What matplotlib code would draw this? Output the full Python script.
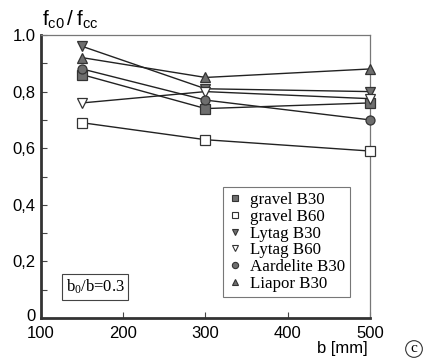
import matplotlib
matplotlib.use("Agg")
import matplotlib.pyplot as plt
from matplotlib.lines import Line2D
import matplotlib.transforms as mtransforms

plt.rcParams['mathtext.fontset'] = 'custom'
plt.rcParams['mathtext.rm'] = 'Liberation Serif'
plt.rcParams['mathtext.sf'] = 'Liberation Sans'
plt.rcParams['mathtext.it'] = 'Liberation Serif:italic'

b = [150, 300, 500]
gravel_b30 = [0.86, 0.74, 0.76]
gravel_b60 = [0.69, 0.63, 0.59]
lytag_b30 = [0.96, 0.81, 0.80]
lytag_b60 = [0.76, 0.80, 0.775]
aardelite_b30 = [0.88, 0.77, 0.70]
liapor_b30 = [0.92, 0.85, 0.88]

series = [
    ("gravel B30", gravel_b30, 's', '#6e6e6e'),
    ("gravel B60", gravel_b60, 's', 'white'),
    ("Lytag B30", lytag_b30, 'v', '#6e6e6e'),
    ("Lytag B60", lytag_b60, 'v', 'white'),
    ("Aardelite B30", aardelite_b30, 'o', '#6e6e6e'),
    ("Liapor B30", liapor_b30, '^', '#6e6e6e'),
]

yticks = [0, 0.2, 0.4, 0.6, 0.8, 1.0]
ytick_labels = ["0", "0,2", "0,4", "0,6", "0,8", "1.0"]
xticks = [100, 200, 300, 400, 500]

fig = plt.figure(figsize=(4.27, 3.64), dpi=100)
ax = fig.add_axes([41/427, 1-318/364, (370-41)/427, (318-35)/364])

handles = []
for name, vals, mk, fc in series:
    ax.plot(b, vals, color='#222222', lw=1.0, marker=mk, ms=6.5,
            mfc=fc, mec='#333333', mew=0.9, clip_on=False, zorder=3)
    handles.append(Line2D([], [], ls='none', marker=mk, ms=4.5, mfc=fc,
                          mec='#333333', mew=0.8, label=name))

ax.set_xlim(100, 500)
ax.set_ylim(0, 1.0)
ax.set_xticks(xticks)
ax.set_xticklabels([str(v) for v in xticks], family='Liberation Sans', fontsize=12)
ax.set_yticks(yticks)
ax.set_yticklabels(ytick_labels, family='Liberation Sans', fontsize=12)
ax.set_yticks([0.1, 0.3, 0.5, 0.7, 0.9], minor=True)
ax.tick_params(axis='both', which='both', direction='in', length=4, width=0.8, color='#444444')
ax.tick_params(axis='y', pad=4)
ax.tick_params(axis='x', pad=6)

lbl0 = ax.get_yticklabels()[0]
lbl0.set_transform(lbl0.get_transform() + mtransforms.ScaledTranslation(0, 3/100, fig.dpi_scale_trans))

for s in ['left', 'bottom']:
    ax.spines[s].set_linewidth(2.0)
    ax.spines[s].set_color('#333333')
for s in ['top', 'right']:
    ax.spines[s].set_linewidth(0.9)
    ax.spines[s].set_color('#777777')

leg = ax.legend(handles=handles, loc='lower right', bbox_to_anchor=(0.94, 0.075),
                prop={'family': 'Liberation Serif', 'size': 12.2},
                frameon=True, fancybox=False, edgecolor='#555555',
                handlelength=0.8, handletextpad=0.5, labelspacing=0.04,
                borderpad=0.3, borderaxespad=0)
leg.get_frame().set_linewidth(0.8)

ax.text(0.075, 0.11, r'$\mathrm{b_0}$/b=0.3', transform=ax.transAxes,
        family='Liberation Serif', fontsize=12, ha='left', va='center',
        bbox=dict(boxstyle='square,pad=0.22', fc='white', ec='#444444', lw=0.8))

fig.text(42/427, 1-26/364, r'$\mathsf{f_{c0}\,/\;f_{cc}}$', fontsize=15,
         ha='left', va='baseline')
fig.text(368/427, 1-353/364, 'b [mm]', family='Liberation Sans', fontsize=12,
         ha='right', va='baseline')
fig.text(414/427, 1-349/364, 'c', family='Liberation Serif', fontsize=11,
         ha='center', va='center',
         bbox=dict(boxstyle='circle,pad=0.12', fc='white', ec='#333333', lw=0.8))

fig.savefig('out.png', dpi=100)
